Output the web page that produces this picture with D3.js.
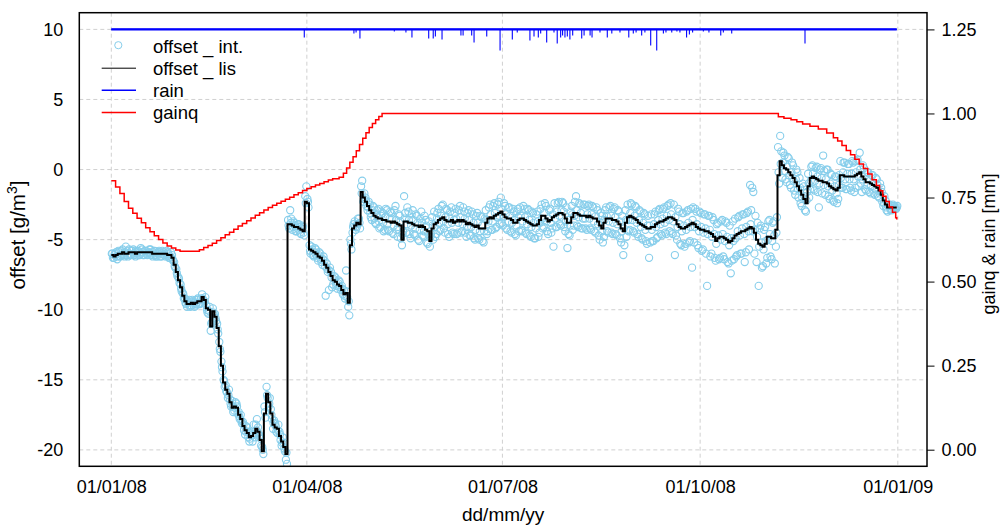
<!DOCTYPE html>
<html><head><meta charset="utf-8">
<script src="https://cdn.jsdelivr.net/npm/d3@7"></script>
<style>
body{margin:0;background:#fff}
svg{display:block}
text{font-family:"Liberation Sans",Arial,Helvetica,sans-serif;fill:#000}
</style>
</head><body>
<svg id="chart" width="1003" height="526"></svg>
<script>
// ---------- data (days since 01/01/2008) ----------
const xTickDates = ["2008-01-01","2008-04-01","2008-07-01","2008-10-01","2009-01-01"];
const xTickLabels = ["01/01/08","01/04/08","01/07/08","01/10/08","01/01/09"];
const leftTicks = [10,5,0,-5,-10,-15,-20];
const rightTicks = [0,0.25,0.5,0.75,1.0,1.25];
const legendLabels = ["offset _ int.","offset _ lis","rain","gainq"];

// offset_lis, one value per day (day 0 .. 365)
const offsetLis = [
-6.1,-6.2,-6.1,-6.0,-6.0,-5.9,-6.0,-6.0,-5.9,-5.9,
-5.9,-6.0,-5.9,-5.9,-5.9,-5.9,-5.9,-5.9,-5.9,-6.0,
-6.0,-6.0,-6.0,-6.0,-6.0,-6.0,-6.1,-6.1,-6.3,-6.8,
-7.3,-7.9,-8.4,-9.0,-9.4,-9.6,-9.6,-9.5,-9.6,-9.5,
-9.4,-9.4,-9.1,-9.3,-9.9,-10.0,-11.2,-10.1,-10.5,-11.3,
-12.6,-14.0,-15.2,-15.7,-16.0,-16.6,-17.0,-16.9,-17.0,-17.5,
-17.8,-18.3,-18.6,-18.8,-19.1,-19.0,-18.8,-18.5,-18.7,-19.3,
-20.1,-17.4,-16.0,-16.6,-17.4,-18.2,-18.4,-18.5,-19.0,-19.4,
-19.8,-20.3,-3.9,-3.9,-4.0,-4.1,-4.1,-4.2,-4.3,-4.4,
-2.3,-2.4,-5.7,-5.8,-5.9,-6.0,-6.2,-6.3,-6.5,-6.8,
-7.0,-7.3,-7.6,-7.9,-8.0,-8.2,-8.3,-8.6,-8.9,-8.8,
-9.5,-5.4,-4.2,-4.0,-3.8,-3.9,-1.6,-2.0,-2.3,-2.6,
-2.9,-3.1,-3.3,-3.4,-3.5,-3.5,-3.6,-3.6,-3.7,-3.7,
-3.8,-3.7,-3.8,-3.9,-4.0,-5.0,-3.7,-3.7,-3.8,-3.8,
-3.9,-4.0,-4.0,-4.1,-4.0,-4.1,-4.3,-4.4,-5.1,-4.2,
-3.9,-3.8,-3.6,-3.5,-3.4,-3.6,-3.7,-3.7,-3.6,-3.8,
-3.7,-3.6,-3.7,-3.6,-3.7,-3.9,-3.8,-3.9,-4.0,-4.1,
-4.0,-4.2,-4.2,-4.2,-3.8,-3.5,-3.4,-3.5,-3.3,-3.2,
-3.1,-3.0,-3.2,-3.4,-3.5,-3.5,-3.6,-3.8,-3.8,-3.6,
-3.5,-3.5,-3.6,-3.7,-3.8,-3.9,-4.0,-4.0,-3.9,-3.6,
-3.3,-3.3,-3.5,-3.7,-3.6,-3.4,-3.3,-3.2,-3.1,-3.1,
-3.2,-3.5,-3.8,-3.8,-3.4,-3.1,-3.1,-3.2,-3.3,-3.3,
-3.3,-3.4,-3.3,-3.4,-3.5,-3.5,-3.7,-4.0,-4.2,-3.8,
-3.5,-3.5,-3.5,-3.6,-3.6,-3.7,-3.9,-4.2,-4.4,-3.8,
-3.4,-3.3,-3.4,-3.5,-3.6,-3.8,-3.9,-4.0,-4.1,-4.2,
-4.2,-4.1,-4.1,-3.9,-3.8,-3.7,-3.7,-3.6,-3.5,-3.4,
-3.4,-3.5,-3.6,-3.9,-4.1,-4.2,-4.2,-4.1,-4.0,-3.9,
-3.8,-3.9,-4.1,-4.2,-4.3,-4.3,-4.4,-4.4,-4.5,-4.6,
-4.8,-5.1,-4.9,-4.8,-4.8,-4.9,-5.0,-5.2,-5.1,-4.9,
-4.7,-4.6,-4.5,-4.4,-4.4,-4.3,-4.2,-4.1,-4.2,-4.5,
-5.0,-5.3,-5.4,-5.5,-5.3,-4.8,-4.8,-4.9,-4.9,-4.3,
-0.4,0.6,0.3,0.1,0.0,-0.2,-0.4,-0.6,-0.9,-1.2,
-1.5,-1.8,-2.1,-2.4,-1.2,-0.6,-0.5,-0.6,-0.7,-0.8,
-0.8,-0.9,-0.9,-1.0,-1.2,-1.3,-1.4,-1.5,-1.3,-0.4,
-0.4,-0.5,-0.5,-0.5,-0.5,-0.5,-0.4,-0.3,-0.2,-0.5,
-0.7,-0.9,-0.9,-1.0,-1.1,-1.2,-1.3,-1.5,-1.8,-2.2,
-2.5,-2.7,-2.7,-2.7,-2.7,-2.7
];

// offset_int, readings at day + 0.25
const offsetIntAM = [
-6.0,-6.3,-5.9,-5.8,-6.2,-5.7,-6.2,-5.8,-5.7,-6.1,
-5.7,-6.2,-5.8,-6.1,-5.7,-6.1,-5.8,-6.0,-5.7,-6.2,
-5.8,-6.2,-5.8,-6.2,-5.9,-6.2,-5.9,-6.3,-6.1,-6.6,
-7.1,-7.7,-8.2,-8.8,-9.2,-9.8,-9.3,-9.7,-9.4,-9.7,
-9.2,-9.6,-8.9,-9.5,-9.7,-10.3,-11.5,-9.9,-10.3,-11.0,
-12.3,-13.7,-15.0,-15.4,-16.3,-16.4,-16.5,-17.2,-16.7,-17.3,
-17.5,-18.0,-18.9,-18.4,-19.4,-18.7,-18.2,-18.2,-18.4,-19.0,
-19.8,-16.9,-15.5,-16.9,-17.1,-18.5,-18.1,-18.8,-18.7,-19.7,
-19.5,-20.7,-3.6,-2.9,-4.3,-3.8,-4.4,-3.9,-4.6,-4.1,
-1.9,-2.1,-5.4,-5.5,-6.2,-5.7,-6.5,-6.0,-6.8,-6.5,
-6.7,-8.6,-7.3,-8.2,-7.7,-8.5,-8.0,-8.3,-8.6,-7.2,
-9.8,-5.0,-4.5,-3.7,-4.1,-3.5,-1.2,-2.3,-2.0,-2.9,
-2.5,-3.6,-2.7,-3.9,-2.8,-4.1,-3.1,-4.3,-2.9,-4.4,
-3.1,-4.6,-2.6,-4.8,-3.3,-5.4,-1.9,-4.5,-3.0,-4.9,
-2.9,-4.7,-3.3,-5.1,-3.0,-4.8,-3.6,-5.3,-5.5,-3.4,
-3.0,-4.6,-2.8,-4.3,-2.5,-4.5,-2.9,-4.8,-2.7,-4.6,
-2.8,-4.5,-2.6,-4.4,-3.0,-4.8,-2.9,-4.7,-3.2,-5.0,
-3.1,-5.0,-3.4,-5.2,-2.9,-4.4,-2.5,-4.3,-2.4,-4.1,
-2.3,-2.0,-4.0,-2.6,-4.3,-2.7,-4.5,-3.0,-4.7,-2.8,
-2.7,-4.4,-2.8,-4.6,-2.9,-4.8,-3.1,-4.9,-3.0,-4.5,
-2.5,-4.1,-2.6,-4.6,-2.8,-4.2,-2.4,-4.1,-2.3,-4.0,
-2.4,-4.4,-5.6,-4.7,-2.6,-4.0,-1.9,-4.1,-2.5,-4.2,
-2.5,-4.3,-2.5,-4.3,-2.7,-4.5,-2.9,-5.0,-3.3,-4.8,
-2.7,-4.5,-2.6,-4.6,-2.7,-4.7,-3.0,-5.2,-6.1,-2.9,
-2.5,-4.3,-2.5,-4.5,-2.7,-4.8,-3.0,-5.0,-3.2,-5.3,
-6.3,-3.2,-5.1,-3.0,-4.8,-2.8,-4.7,-2.7,-4.6,-2.5,
-2.4,-4.6,-6.1,-5.0,-3.0,-5.4,-3.1,-5.3,-2.9,-5.1,
-7.0,-5.2,-3.0,-5.6,-3.1,-5.7,-3.2,-8.3,-3.3,-6.0,
-3.6,-6.5,-3.8,-6.3,-3.6,-6.4,-3.8,-6.7,-7.4,-3.7,
-3.5,-6.1,-3.3,-6.0,-3.2,-5.9,-3.0,-1.1,-1.3,-6.0,
-6.6,-8.3,-4.0,-6.9,-4.1,-6.3,-3.6,-6.4,-3.7,-5.5,
1.6,2.4,-0.6,1.0,-0.9,0.8,-1.3,0.3,-1.8,-0.2,
-0.6,-2.6,-1.2,-3.0,-0.3,-1.4,0.3,-1.5,0.2,-2.7,
0.1,1.0,-1.8,0.0,-2.1,-0.4,-2.3,-0.5,-2.1,0.6,
-1.3,0.5,-1.4,0.4,-1.5,0.5,-1.3,0.7,1.2,-1.6,
0.1,-1.5,-0.2,-1.7,-0.4,-1.8,-0.7,-2.0,-1.3,-2.6,
-2.2,-3.0,-2.5,-2.9,-2.6,-2.8
];

// offset_int, readings at day + 0.5
const offsetIntMid = [
-6.0,-6.1,-6.2,-5.9,-6.1,-6.0,-5.9,-6.1,-6.0,-5.8,
-6.0,-5.9,-5.8,-6.0,-5.9,-5.8,-6.0,-5.9,-6.0,-5.9,
-6.1,-6.0,-5.9,-6.0,-6.1,-6.0,-6.0,-6.2,-6.4,-6.9,
-7.4,-7.8,-8.5,-8.9,-9.5,-9.5,-9.7,-9.4,-9.5,-9.6,
-9.3,-9.5,-9.2,-9.4,-10.0,-10.1,-11.0,-10.2,-10.6,-11.4,
-12.8,-14.1,-15.1,-15.8,-16.1,-16.7,-16.9,-17.0,-16.9,-17.6,
-17.9,-18.2,-18.7,-18.7,-19.2,-18.9,-18.9,-18.6,-18.8,-19.2,
-20.0,-17.3,-16.1,-16.7,-17.5,-18.1,-18.3,-18.6,-18.9,-19.5,
-19.9,-20.2,-4.0,-3.8,-4.1,-4.0,-4.2,-4.1,-4.2,-4.5,
-2.4,-2.3,-5.8,-5.7,-5.9,-6.1,-6.1,-6.4,-6.4,-6.9,
-7.1,-7.2,-7.7,-7.8,-8.1,-8.1,-8.4,-8.5,-9.0,-8.7,
-9.4,-5.3,-4.1,-4.1,-3.9,-3.8,-1.7,-2.1,-2.2,-2.7,
-3.1,-2.9,-3.5,-3.2,-3.7,-3.3,-3.8,-3.4,-3.9,-3.5,
-3.5,-4.0,-3.6,-4.1,-3.7,-4.6,-3.5,-3.9,-3.6,-4.0,
-3.6,-4.2,-3.8,-4.3,-3.8,-4.4,-4.0,-4.6,-4.8,-4.0,
-4.1,-3.5,-3.8,-3.3,-3.7,-3.4,-3.9,-3.5,-3.8,-3.6,
-3.5,-3.8,-3.4,-3.9,-3.5,-4.1,-3.6,-4.1,-3.8,-4.3,
-3.8,-4.4,-4.0,-4.4,-3.6,-3.7,-3.2,-3.7,-3.1,-3.4,
-3.3,-2.8,-3.4,-3.2,-3.7,-3.3,-3.8,-3.6,-4.0,-3.4,
-3.3,-3.7,-3.4,-3.9,-3.6,-4.1,-3.8,-4.2,-3.7,-3.8,
-3.5,-3.1,-3.7,-3.5,-3.8,-3.2,-3.5,-3.0,-3.3,-2.9,
-3.0,-3.7,-3.6,-4.0,-3.2,-3.3,-2.9,-3.4,-3.1,-3.5,
-3.5,-3.2,-3.5,-3.2,-3.7,-3.3,-3.9,-3.8,-4.4,-3.6,
-3.3,-3.7,-3.3,-3.8,-3.4,-3.9,-3.7,-4.4,-4.2,-3.6,
-3.6,-3.1,-3.6,-3.3,-3.8,-3.6,-4.1,-3.8,-4.3,-4.0,
-4.0,-4.3,-3.9,-4.1,-3.6,-3.9,-3.5,-3.8,-3.3,-3.6,
-3.2,-3.7,-3.4,-4.1,-3.9,-4.4,-4.0,-4.3,-3.8,-4.1,
-3.6,-4.1,-3.9,-4.4,-4.1,-4.5,-4.2,-4.6,-4.3,-4.8,
-4.6,-5.3,-4.7,-5.0,-4.6,-5.1,-4.8,-5.4,-4.9,-5.1,
-4.9,-4.4,-4.7,-4.2,-4.6,-4.1,-4.4,-3.9,-4.4,-4.3,
-4.8,-5.5,-5.2,-5.7,-5.1,-5.0,-4.6,-5.1,-4.7,-4.5,
-0.2,0.4,0.5,-0.1,0.2,-0.4,-0.2,-0.8,-0.7,-1.4,
-1.3,-2.0,-1.9,-2.2,-1.0,-0.8,-0.3,-0.8,-0.5,-1.0,
-0.6,-1.1,-0.7,-1.2,-1.0,-1.5,-1.2,-1.7,-1.1,-0.6,
-0.2,-0.7,-0.3,-0.7,-0.3,-0.7,-0.2,-0.5,0.0,-0.7,
-0.5,-1.1,-0.7,-1.2,-0.9,-1.4,-1.1,-1.7,-1.6,-2.4,
-2.7,-2.6,-2.8,-2.6,-2.7,-2.7
];

// offset_int, readings at day + 0.75
const offsetIntPM = [
-6.3,-6.0,-6.4,-6.2,-5.8,-6.1,-5.5,-6.2,-6.1,-5.8,
-6.1,-5.8,-6.1,-5.6,-6.1,-5.8,-6.1,-5.7,-6.1,-5.8,
-6.2,-5.9,-6.2,-5.8,-6.1,-5.8,-6.3,-5.9,-6.5,-7.0,
-7.6,-8.1,-8.7,-9.2,-9.6,-9.4,-9.8,-9.3,-9.8,-9.3,
-9.6,-9.2,-9.3,-9.1,-10.2,-9.8,-10.9,-10.4,-10.8,-11.7,
-13.0,-14.4,-15.5,-15.9,-15.7,-16.9,-17.3,-16.6,-17.4,-17.8,
-18.1,-18.6,-18.3,-19.1,-18.8,-19.4,-19.1,-17.8,-19.0,-19.7,
-20.3,-17.7,-16.3,-16.3,-17.8,-17.9,-18.7,-18.2,-19.3,-19.1,
-20.1,-21.0,-4.2,-3.5,-3.7,-4.4,-3.9,-4.5,-4.0,-4.7,
-1.2,-2.7,-6.0,-6.1,-5.6,-6.3,-5.9,-6.6,-6.2,-9.0,
-7.3,-7.0,-8.4,-7.6,-8.3,-7.9,-8.6,-8.9,-9.2,-9.1,
-10.4,-5.7,-3.9,-4.3,-3.5,-4.2,-0.8,-1.7,-2.6,-2.3,
-3.4,-2.6,-3.8,-2.9,-4.2,-3.0,-4.4,-2.8,-4.3,-3.0,
-4.5,-2.9,-4.3,-3.2,-4.9,-4.4,-3.1,-2.7,-4.6,-3.2,
-4.6,-3.2,-5.0,-3.5,-4.7,-3.3,-5.2,-3.7,-4.6,-5.0,
-4.8,-3.1,-4.4,-2.6,-4.2,-2.8,-4.6,-3.0,-4.5,-3.1,
-4.6,-2.9,-4.5,-2.7,-4.5,-3.1,-4.7,-3.0,-4.9,-3.3,
-4.9,-3.3,-5.1,-3.5,-4.6,-2.7,-4.3,-2.6,-4.2,-2.5,
-3.9,-3.8,-2.4,-4.2,-2.7,-4.4,-2.8,-4.6,-3.0,-4.4,
-4.3,-2.6,-4.5,-2.8,-4.7,-3.0,-4.9,-3.2,-4.8,-2.8,
-4.2,-2.4,-4.4,-2.9,-4.5,-5.5,-4.1,-2.4,-3.9,-2.3,
-4.1,-2.7,-4.6,-3.0,-4.3,-2.3,-4.0,-2.4,-4.2,-2.5,
-4.2,-2.6,-4.2,-2.6,-4.4,-2.7,-4.7,-3.1,-5.2,-2.9,
-4.4,-2.7,-4.5,-2.8,-4.6,-2.9,-4.9,-3.3,-5.4,-4.8,
-4.4,-2.4,-4.4,-2.6,-4.6,-2.9,-4.9,-3.1,-5.1,-3.3,
-5.2,-5.1,-3.2,-4.9,-2.9,-4.6,-2.8,-4.5,-2.6,-4.4,
-4.5,-2.5,-4.7,-2.8,-5.3,-3.1,-5.5,-3.0,-5.2,-2.8,
-2.7,-2.8,-5.4,-3.0,-5.8,-3.2,-6.0,-3.3,-6.2,-3.4,
-6.3,-3.9,-6.4,-3.7,-6.2,-3.7,-6.6,-4.0,-6.5,-6.4,
-6.2,-3.4,-6.0,-3.2,-6.6,-3.1,-5.7,-2.9,-1.6,-3.3,
-3.8,-4.2,-7.0,-4.3,-6.7,-3.7,-6.2,-3.8,-6.7,-3.4,
-1.0,1.3,1.2,-0.7,0.9,-1.1,0.5,-1.5,0.0,-2.0,
-2.4,-1.0,-2.9,-1.6,-2.0,0.2,-1.4,0.1,-1.6,0.0,
-1.7,-0.1,0.0,-1.9,-0.3,-2.2,-0.5,-2.4,-0.4,-1.3,
0.5,-1.4,0.4,-1.3,0.6,-1.6,0.6,-1.2,-1.0,0.3,
-1.4,-0.2,-1.6,-0.4,-1.7,-0.6,-1.9,-1.0,-2.3,-1.9,
-2.9,-2.5,-2.9,-2.5,-2.8,-2.6
];

// gainq (step changes)
const gainqDay = [0,2,4,6,8,10,12,14,16,18,20,22,24,26,28,30,32,
41,43,45,47,49,51,53,55,57,59,61,63,65,67,69,71,73,75,77,79,81,83,85,87,89,91,93,95,97,99,101,103,
106,108,109.5,111,112.5,114,115.5,117,118.5,120,121.5,123,124.5,126,
310.4,313,316.3,319,321.7,325.1,329,332.9,336,
338,340,342,344,346,348,350,352,354,356,
357.5,359,360.5,362,363.5,365,365.5];
const gainqVal = [0.800,0.781,0.762,0.738,0.718,0.703,0.688,0.675,0.660,0.648,0.636,0.625,0.615,0.606,0.600,0.594,0.590,
0.595,0.601,0.607,0.614,0.622,0.630,0.639,0.647,0.656,0.665,0.673,0.681,0.689,0.697,0.705,0.713,0.720,0.727,0.733,0.739,0.745,0.751,0.758,0.764,0.771,0.777,0.782,0.787,0.792,0.797,0.802,0.806,
0.810,0.822,0.838,0.855,0.871,0.889,0.908,0.926,0.943,0.958,0.970,0.981,0.991,1.000,
0.990,0.986,0.981,0.975,0.969,0.962,0.954,0.942,0.928,
0.918,0.905,0.890,0.877,0.864,0.850,0.836,0.820,0.803,0.786,
0.770,0.754,0.738,0.722,0.706,0.690,0.685];

// rain events (drawn downward from the 1.25 level)
const rainBase = 1.25;
const rainStartDay = 0, rainEndDay = 365.5;
const rainDay = [89.8,112.9,113.9,115.7,131.7,137.1,139.9,147.7,149.8,150.8,153.9,162.7,163.7,167.7,168.8,174.7,180.9,186.6,188.9,194.8,196.7,198.7,199.8,202.6,206.0,207.5,209.1,210.0,211.1,212.2,213.4,214.7,218.9,220.0,222.8,223.7,227.4,230.8,232.9,236.7,240.8,242.9,244.2,246.8,248.3,251.0,253.8,256.9,258.1,260.8,263.2,264.6,267.7,269.0,270.5,275.5,278.1,283.6,284.8,288.7,322.8];
const rainMM = [0.024,0.012,0.009,0.027,0.006,0.009,0.024,0.027,0.027,0.021,0.030,0.018,0.018,0.018,0.039,0.021,0.063,0.030,0.009,0.033,0.021,0.024,0.012,0.039,0.009,0.042,0.024,0.018,0.024,0.021,0.030,0.018,0.027,0.018,0.018,0.024,0.009,0.024,0.012,0.009,0.024,0.012,0.009,0.018,0.009,0.048,0.063,0.012,0.009,0.009,0.006,0.009,0.024,0.015,0.009,0.006,0.009,0.018,0.009,0.012,0.042];

// ---------- drawing ----------
const t0 = Date.UTC(2008,0,1), DAY = 864e5;
const toDate = d => new Date(t0 + d*DAY);

const L = 79.3, R = 927, T = 12.7, B = 466.3;
const svg = d3.select("#chart");

const x = d3.scaleUtc().domain([toDate(-14.89), toDate(379.57)]).range([L, R]);
const yL = d3.scaleLinear().domain([-21.17, 11.19]).range([B, T]);
const yR = d3.scaleLinear().domain([-0.0494, 1.2997]).range([B, T]);

svg.append("defs").append("clipPath").attr("id","plotclip")
  .append("rect").attr("x",L).attr("y",T).attr("width",R-L).attr("height",B-T);

// grid
const grid = svg.append("g").attr("stroke","#d0d0d0").attr("stroke-width",1).attr("stroke-dasharray","4,3");
xTickDates.forEach(s => {
  const xp = x(new Date(s+"T00:00:00Z"));
  grid.append("line").attr("x1",xp).attr("x2",xp).attr("y1",T).attr("y2",B);
});
leftTicks.forEach(v => {
  grid.append("line").attr("x1",L).attr("x2",R).attr("y1",yL(v)).attr("y2",yL(v));
});

const plot = svg.append("g").attr("clip-path","url(#plotclip)");

// offset_int points
const intPts = [];
offsetIntAM.forEach((v,i) => intPts.push({d:i+0.25, v}));
offsetIntMid.forEach((v,i) => intPts.push({d:i+0.5, v}));
offsetIntPM.forEach((v,i) => intPts.push({d:i+0.75, v}));
plot.append("g").selectAll("circle").data(intPts).join("circle")
  .attr("cx", p => x(toDate(p.d))).attr("cy", p => yL(p.v)).attr("r", 3.6)
  .attr("fill","none").attr("stroke","#87CEEB").attr("stroke-width",1.1);

// offset_lis step line
const lisPts = offsetLis.map((v,i) => ({d:i, v}));
lisPts.push({d:365.5, v:offsetLis[offsetLis.length-1]});
plot.append("path").datum(lisPts)
  .attr("d", d3.line().x(p => x(toDate(p.d))).y(p => yL(p.v)).curve(d3.curveStepAfter))
  .attr("fill","none").attr("stroke","#000").attr("stroke-width",2);

// gainq
const gPts = gainqDay.map((d,i) => ({d, v:gainqVal[i]}));
plot.append("path").datum(gPts)
  .attr("d", d3.line().x(p => x(toDate(p.d))).y(p => yR(p.v)).curve(d3.curveStepAfter))
  .attr("fill","none").attr("stroke","#ff0000").attr("stroke-width",1.5);

// rain
const rainPts = [{d:rainStartDay, v:rainBase}];
rainDay.forEach((d,i) => {
  rainPts.push({d, v:rainBase});
  rainPts.push({d, v:rainBase - rainMM[i]});
  rainPts.push({d, v:rainBase});
});
rainPts.push({d:rainEndDay, v:rainBase});
const rainLine = d3.line().x(p => x(toDate(p.d))).y(p => yR(p.v));
plot.append("path").datum(rainPts).attr("d", rainLine)
  .attr("fill","none").attr("stroke","#0000ff").attr("stroke-width",1.1);
plot.append("path").datum([{d:rainStartDay,v:rainBase},{d:rainEndDay,v:rainBase}]).attr("d", rainLine)
  .attr("fill","none").attr("stroke","#0000ff").attr("stroke-width",2.3);

// axes
const fmtL = d => String(d);
const axL = svg.append("g").attr("transform",`translate(${L},0)`)
  .call(d3.axisLeft(yL).tickValues(leftTicks).tickSize(0).tickPadding(16).tickFormat(fmtL));
const axR = svg.append("g").attr("transform",`translate(${R},0)`)
  .call(d3.axisRight(yR).tickValues(rightTicks).tickSize(7.5).tickPadding(7).tickFormat(d3.format(".2f")));
const axB = svg.append("g").attr("transform",`translate(0,${B})`)
  .call(d3.axisBottom(x).tickValues(xTickDates.map(s => new Date(s+"T00:00:00Z"))).tickSize(0).tickPadding(14.4)
    .tickFormat((d,i) => xTickLabels[i]));
[axL, axR, axB].forEach(a => {
  a.select(".domain").remove();
  a.selectAll("text").attr("font-size", 18).attr("font-family", '"Liberation Sans",Arial,sans-serif').attr("fill","#000");
  a.selectAll("line").attr("stroke","#000");
});

// frame
svg.append("rect").attr("x",L).attr("y",T).attr("width",R-L).attr("height",B-T)
  .attr("fill","none").attr("stroke","#000").attr("stroke-width",1.5);

// titles
svg.append("text").attr("x",(L+R)/2).attr("y",521).attr("text-anchor","middle")
  .attr("font-size",19).text("dd/mm/yy");
const lt = svg.append("text").attr("transform","translate(25,235) rotate(-90)")
  .attr("text-anchor","middle").attr("font-size",20.5);
lt.append("tspan").text("offset [g/m");
lt.append("tspan").attr("font-size",14).attr("dy",-8).text("3");
lt.append("tspan").attr("dy",8).text("]");
svg.append("text").attr("transform","translate(995,244) rotate(-90)")
  .attr("text-anchor","middle").attr("font-size",18).text("gainq & rain [mm]");

// legend
const lg = svg.append("g");
const rowBase = [52.5,75,97,119.2];
legendLabels.forEach((lab,i) => {
  lg.append("text").attr("x",153).attr("y",rowBase[i]).attr("font-size",18.5).text(lab);
});
lg.append("circle").attr("cx",118.3).attr("cy",rowBase[0]-7.3).attr("r",3.6)
  .attr("fill","none").attr("stroke","#87CEEB").attr("stroke-width",1);
const legLines = [{c:"#000",w:1},{c:"#0000ff",w:1.5},{c:"#ff0000",w:1.5}];
legLines.forEach((s,k) => {
  const yy = rowBase[k+1]-6.8;
  lg.append("line").attr("x1",101.7).attr("x2",136).attr("y1",yy).attr("y2",yy)
    .attr("stroke",s.c).attr("stroke-width",s.w);
});
</script>
</body></html>
